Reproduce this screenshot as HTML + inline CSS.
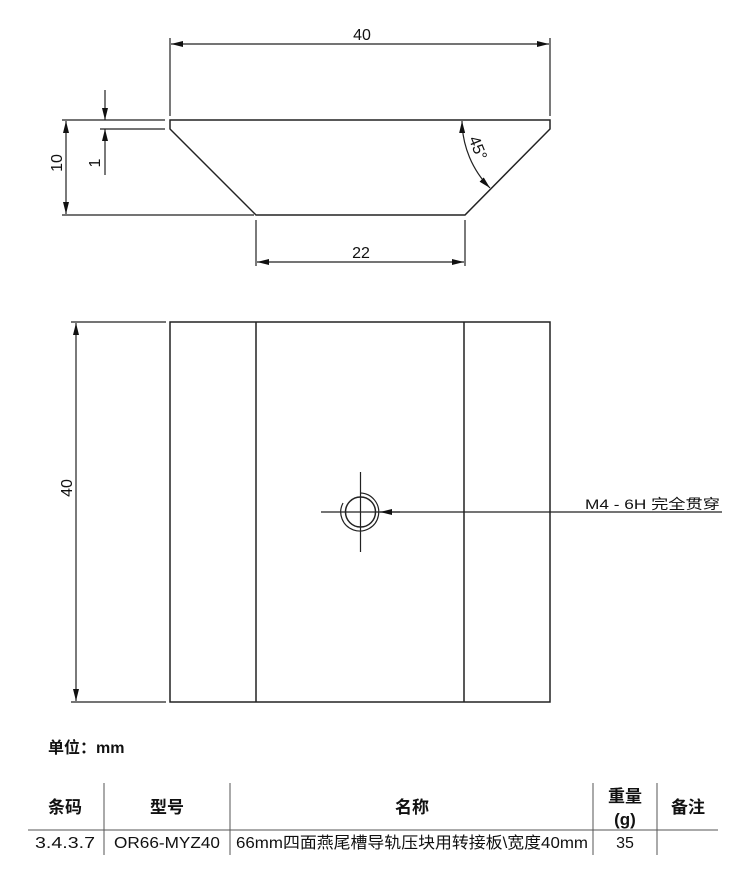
<!DOCTYPE html>
<html><head><meta charset="utf-8"><style>
html,body{margin:0;padding:0;background:#fff;}
svg{display:block;}
text{font-family:"Liberation Sans","Noto Sans CJK SC",sans-serif;fill:#111;}
</style></head><body>
<svg width="750" height="876" viewBox="0 0 750 876" xmlns="http://www.w3.org/2000/svg">
<defs>
<marker id="a" viewBox="0 0 12 6" refX="12" refY="3" markerWidth="12" markerHeight="6" orient="auto-start-reverse" markerUnits="userSpaceOnUse"><path d="M0,0 L12,3 L0,6 z" fill="#111"/></marker>
</defs>
<g stroke="#222" stroke-width="1.2" fill="none">
<path d="M170,120 L550,120 L550,129 L465,215 L256,215 L170,129 Z" stroke-width="1.5"/>
<line x1="170" y1="38" x2="170" y2="116"/>
<line x1="550" y1="38" x2="550" y2="116"/>
<line x1="171" y1="44" x2="549" y2="44" marker-start="url(#a)" marker-end="url(#a)"/>
<line x1="256" y1="220" x2="256" y2="266"/>
<line x1="465" y1="220" x2="465" y2="266"/>
<line x1="257" y1="262" x2="464" y2="262" marker-start="url(#a)" marker-end="url(#a)"/>
<line x1="62" y1="120" x2="165" y2="120"/>
<line x1="62" y1="215" x2="254" y2="215"/>
<line x1="66" y1="121" x2="66" y2="214" marker-start="url(#a)" marker-end="url(#a)"/>
<line x1="100" y1="129" x2="165" y2="129"/>
<line x1="105" y1="90" x2="105" y2="120" marker-end="url(#a)"/>
<line x1="105" y1="175" x2="105" y2="129" marker-end="url(#a)"/>
<path d="M462,121 A97,97 0 0 0 490,188" marker-start="url(#a)" marker-end="url(#a)"/>
<rect x="170" y="322" width="380" height="380" stroke-width="1.5"/>
<line x1="256" y1="322" x2="256" y2="702" stroke-width="1.5"/>
<line x1="464" y1="322" x2="464" y2="702" stroke-width="1.5"/>
<line x1="71" y1="322" x2="166" y2="322"/>
<line x1="71" y1="702" x2="166" y2="702"/>
<line x1="76" y1="323" x2="76" y2="701" marker-start="url(#a)" marker-end="url(#a)"/>
<circle cx="360.5" cy="512" r="15" stroke-width="1.5"/>
<path d="M343,503 A19,19 0 1 0 360.5,493" stroke-width="1.2"/>
<line x1="321" y1="512" x2="400" y2="512"/>
<line x1="360.5" y1="472" x2="360.5" y2="552"/>
<line x1="722" y1="512" x2="380" y2="512" marker-end="url(#a)"/>
<g stroke="#555" stroke-width="1">
<line x1="104" y1="783" x2="104" y2="855"/>
<line x1="230" y1="783" x2="230" y2="855"/>
<line x1="593" y1="783" x2="593" y2="855"/>
<line x1="657" y1="783" x2="657" y2="855"/>
<line x1="28" y1="830" x2="718" y2="830"/>
</g>
</g>
<text x="362" y="40" font-size="16" text-anchor="middle">40</text>
<text x="361" y="258" font-size="16" text-anchor="middle">22</text>
<text transform="translate(62,163) rotate(-90)" font-size="16" text-anchor="middle">10</text>
<text transform="translate(100,163) rotate(-90)" font-size="16" text-anchor="middle">1</text>
<text transform="translate(473,150) rotate(68)" font-size="16" text-anchor="middle">45°</text>
<text transform="translate(72,488) rotate(-90)" font-size="16" text-anchor="middle">40</text>
<text x="585" y="509" font-size="14" textLength="135" lengthAdjust="spacingAndGlyphs">M4 - 6H 完全贯穿</text>
<text x="48" y="753" font-size="16" font-weight="bold">单位：mm</text>
<g font-size="17" font-weight="bold" text-anchor="middle">
<text x="65" y="813">条码</text>
<text x="167" y="813">型号</text>
<text x="412" y="813">名称</text>
<text x="625" y="802">重量</text>
<text x="625" y="825">(g)</text>
<text x="688" y="813">备注</text>
</g>
<g font-size="16" text-anchor="middle">
<text x="65" y="848" textLength="60" lengthAdjust="spacingAndGlyphs">3.4.3.7</text>
<text x="167" y="848" textLength="106" lengthAdjust="spacingAndGlyphs">OR66-MYZ40</text>
<text x="412" y="848" textLength="352" lengthAdjust="spacingAndGlyphs">66mm四面燕尾槽导轨压块用转接板\宽度40mm</text>
<text x="625" y="848">35</text>
</g>
</svg>
</body></html>
